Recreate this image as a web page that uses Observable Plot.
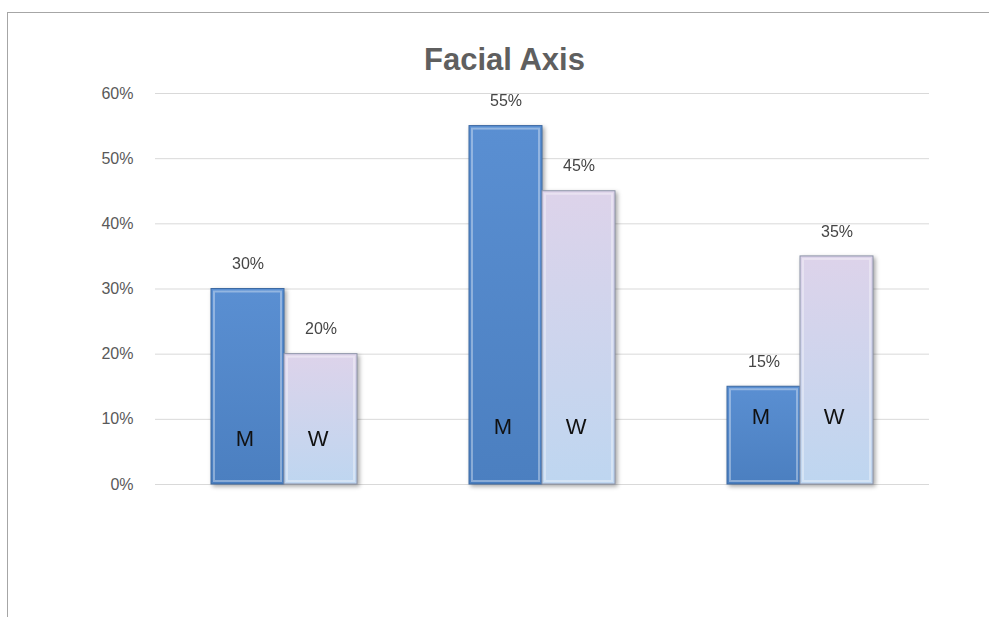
<!DOCTYPE html>
<html>
<head>
<meta charset="utf-8">
<script src="https://cdn.jsdelivr.net/npm/d3@7"></script>
<script src="https://cdn.jsdelivr.net/npm/@observablehq/plot@0.6"></script>
<style>
  body { margin: 0; background: #fff; }
  #chart { position: relative; width: 989px; height: 617px; overflow: hidden; font-family: "Liberation Sans", Arial, sans-serif; }
  #frame { position: absolute; left: 7px; top: 12px; right: -2px; bottom: -2px; border-top: 1px solid #a6a6a6; border-left: 1px solid #a6a6a6; }
  #title { position: absolute; top: 40px; left: 10px; width: 989px; text-align: center; font: bold 31px "Liberation Sans", Arial, sans-serif; line-height: 40px; color: #5f5f5f; }
  #plot { position: absolute; top: 80px; left: 0; }
</style>
</head>
<body>
<div id="chart">
  <div id="frame"></div>
  <div id="title">Facial Axis</div>
  <div id="plot"></div>
</div>
<script>
// Data
const groups = ["Group 1", "Group 2", "Group 3"];
const sexes = ["M", "W"];
const menValues = [0.30, 0.55, 0.15];
const womenValues = [0.20, 0.45, 0.35];
const innerLabelY = [0.07, 0.089, 0.103];
const yTicks = [0, 0.1, 0.2, 0.3, 0.4, 0.5, 0.6];

const data = [];
groups.forEach((g, i) => {
  data.push({group: g, sex: "M", value: menValues[i], labelY: innerLabelY[i]});
  data.push({group: g, sex: "W", value: womenValues[i], labelY: innerLabelY[i]});
});

const fillFor = d => d.sex === "M" ? "url(#gradM)" : "url(#gradW)";
const strokeFor = d => d.sex === "M" ? "#3d6aa3" : "#8c93a8";

const chart = Plot.plot({
  width: 989,
  height: 537,
  marginTop: 13,
  marginBottom: 133,
  marginLeft: 154,
  marginRight: 60,
  style: {fontFamily: "'Liberation Sans', Arial, sans-serif", background: "transparent"},
  fx: {domain: groups, padding: 0, axis: null},
  x: {domain: sexes, paddingInner: 0, paddingOuter: 0.76, axis: null},
  y: {domain: [0, 0.6], axis: null},
  marks: [
    Plot.gridY(yTicks, {stroke: "#d9d9d9", strokeOpacity: 1, strokeWidth: 1}),
    Plot.axisY({
      ticks: yTicks,
      tickFormat: d3.format(".0%"),
      tickSize: 0,
      tickPadding: 22,
      fontSize: 16,
      fill: "#595959",
      label: null
    }),
    Plot.barY(data, {
      fx: "group", x: "sex", y: "value",
      fill: fillFor, stroke: strokeFor, strokeWidth: 1
    }),
    Plot.barY(data, {
      fx: "group", x: "sex", y1: 0, y2: "value",
      fill: "none", stroke: "#ffffff", strokeOpacity: 0.35, strokeWidth: 2, inset: 3
    }),
    Plot.text(data, {
      fx: "group", x: "sex", y: "value",
      text: d => d3.format(".0%")(d.value),
      dy: -25, fontSize: 16, fill: "#454545"
    }),
    Plot.text(data, {
      fx: "group", x: "sex", y: "labelY",
      text: "sex",
      dx: -3,
      fontSize: 22, fill: "#111111"
    })
  ]
});

document.getElementById("plot").appendChild(chart);

const svg = d3.select(chart);
const defs = svg.insert("defs", ":first-child");
const gM = defs.append("linearGradient").attr("id", "gradM").attr("x1", 0).attr("y1", 0).attr("x2", 0).attr("y2", 1);
gM.append("stop").attr("offset", "0%").attr("stop-color", "#5a8fd2");
gM.append("stop").attr("offset", "100%").attr("stop-color", "#4b7fc0");
const gW = defs.append("linearGradient").attr("id", "gradW").attr("x1", 0).attr("y1", 0).attr("x2", 0).attr("y2", 1);
gW.append("stop").attr("offset", "0%").attr("stop-color", "#ddd3ea");
gW.append("stop").attr("offset", "100%").attr("stop-color", "#bed6f0");

// soft drop shadow on the main bars (first bar mark only)
const barGroups = chart.querySelectorAll('g[aria-label="bar"]');
if (barGroups.length) barGroups[0].style.filter = "drop-shadow(2px 2px 2px rgba(0,0,0,0.35))";
</script>
</body>
</html>
